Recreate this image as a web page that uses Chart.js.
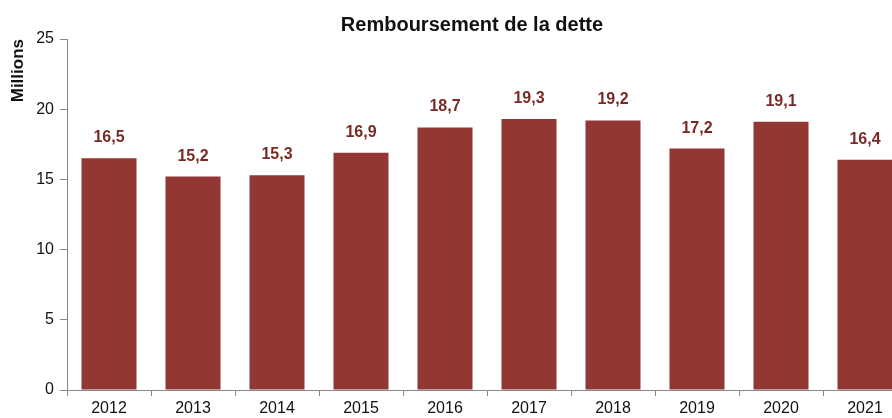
<!DOCTYPE html>
<html>
<head>
<meta charset="utf-8">
<script src="https://cdn.jsdelivr.net/npm/chart.js@4"></script>
<style>
  html, body { margin: 0; padding: 0; background: #fff; overflow: hidden; }
  #wrap { width: 944px; height: 418px; }
</style>
</head>
<body>
<div id="wrap"><canvas id="chart"></canvas></div>
<script>
const chartTitle = 'Remboursement de la dette';
const years = ['2012', '2013', '2014', '2015', '2016', '2017', '2018', '2019', '2020', '2021'];
const remboursement = [16.5, 15.2, 15.3, 16.9, 18.7, 19.3, 19.2, 17.2, 19.1, 16.4];
const yTicks = [0, 5, 10, 15, 20, 25];

const fontFamily = '"Liberation Sans", Arial, sans-serif';

// title centred on the whole (wider than the window) canvas
const topTitle = {
    id: 'topTitle',
    afterDraw(chart) {
        const ctx = chart.ctx;
        ctx.save();
        ctx.font = 'bold 20px ' + fontFamily;
        ctx.fillStyle = '#111';
        ctx.textAlign = 'center';
        ctx.textBaseline = 'alphabetic';
        ctx.fillText(chartTitle, chart.width / 2, 31);
        ctx.restore();
    }
};

// writes the value above each bar, with a comma as in the original
const barLabels = {
    id: 'barLabels',
    afterDatasetsDraw(chart) {
        const ctx = chart.ctx;
        const meta = chart.getDatasetMeta(0);
        ctx.save();
        ctx.font = 'bold 16px ' + fontFamily;
        ctx.fillStyle = '#7a2a24';
        ctx.textAlign = 'center';
        ctx.textBaseline = 'alphabetic';
        meta.data.forEach((bar, i) => {
            const txt = remboursement[i].toFixed(1).replace('.', ',');
            ctx.fillText(txt, bar.x, bar.y - 16);
        });
        ctx.restore();
    }
};

window.onload = function() {
    const ctx = document.getElementById('chart').getContext('2d');
    new Chart(ctx, {
        type: 'bar',
        data: {
            labels: years,
            datasets: [{
                data: remboursement,
                backgroundColor: '#933735',
                barPercentage: 0.655,
                categoryPercentage: 1
            }]
        },
        options: {
            responsive: true,
            maintainAspectRatio: false,
            animation: false,
            layout: { padding: { left: 0, right: 37, top: 39, bottom: 0 } },
            plugins: {
                legend: { display: false },
                tooltip: { enabled: false },
                title: { display: false }
            },
            scales: {
                x: {
                    offset: true,
                    grid: {
                        display: true,
                        offset: true,
                        drawOnChartArea: false,
                        tickLength: 6,
                        color: '#888'
                    },
                    border: { color: '#888' },
                    ticks: {
                        color: '#111',
                        padding: 3,
                        font: { family: fontFamily, size: 16 }
                    },
                    afterFit(scale) { scale.height = 28; }
                },
                y: {
                    min: 0,
                    max: 25,
                    afterBuildTicks(scale) {
                        scale.ticks = yTicks.map(v => ({ value: v }));
                    },
                    grid: {
                        drawOnChartArea: false,
                        tickLength: 7,
                        color: '#888'
                    },
                    border: { color: '#888' },
                    ticks: {
                        color: '#111',
                        padding: 6,
                        font: { family: fontFamily, size: 16 }
                    },
                    title: {
                        display: true,
                        text: 'Millions',
                        align: 'end',
                        color: '#111',
                        font: { family: fontFamily, size: 17, weight: 'bold' },
                        padding: { top: 8, bottom: 0 }
                    },
                    afterFit(scale) { scale.width = 67; }
                }
            }
        },
        plugins: [barLabels, topTitle]
    });
};
</script>
</body>
</html>
